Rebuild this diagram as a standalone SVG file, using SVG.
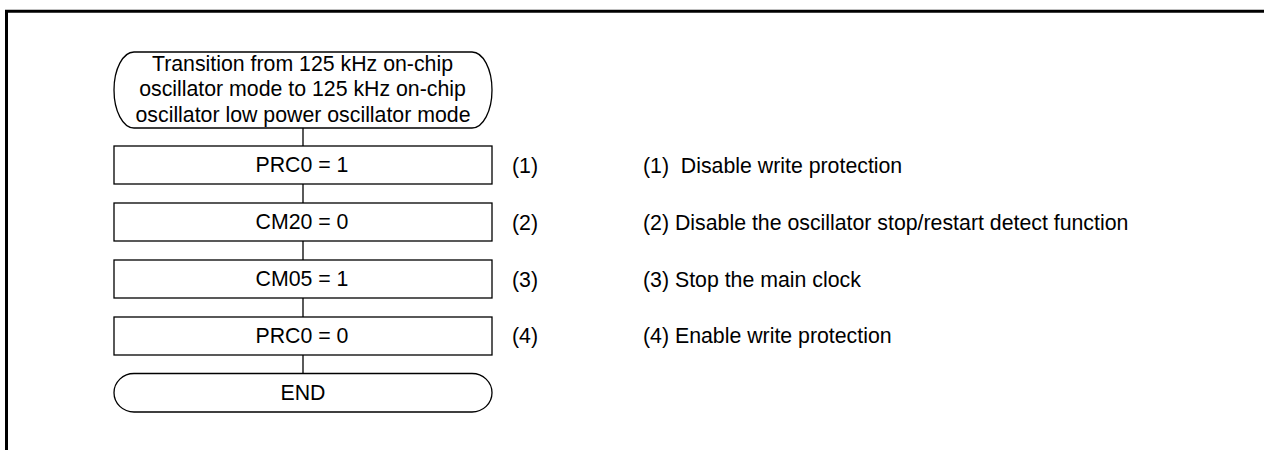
<svg xmlns="http://www.w3.org/2000/svg" width="1264" height="450" viewBox="0 0 1264 450">
<style>
text{font-family:"Liberation Sans",Arial,sans-serif;font-size:21.3px;fill:#000}
.c{text-anchor:middle}
.s{fill:#fff;stroke:#000;stroke-width:1.3}
.ln{stroke:#000;stroke-width:1.3;fill:none}
.fr{stroke:#000;stroke-width:3;fill:none}
</style>
<rect width="1264" height="450" fill="#fff"/>
<g id="frame"><path class="fr" d="M6.5 450 V11.3 H1264"/></g>
<g id="connectors">
<line class="ln" x1="303" y1="128" x2="303" y2="146"/>
<line class="ln" x1="303" y1="184" x2="303" y2="203"/>
<line class="ln" x1="303" y1="241" x2="303" y2="260"/>
<line class="ln" x1="303" y1="298" x2="303" y2="317"/>
<line class="ln" x1="303" y1="355" x2="303" y2="373.5"/>
</g>
<g id="start">
<path class="s" d="M134 52 H472 A20 38 0 0 1 472 128 H134 A20 38 0 0 1 134 52 Z"/>
<text class="c" x="302.5" y="70.7">Transition from 125 kHz on-chip</text>
<text class="c" x="302.5" y="96.2">oscillator mode to 125 kHz on-chip</text>
<text class="c" x="303" y="121.7">oscillator low power oscillator mode</text>
</g>
<g id="step1">
<rect class="s" x="114" y="146" width="378" height="38"/>
<text class="c" x="302" y="172.3">PRC0 = 1</text>
<text x="512" y="173">(1)</text>
</g>
<g id="step2">
<rect class="s" x="114" y="203" width="378" height="38"/>
<text class="c" x="302" y="229.3">CM20 = 0</text>
<text x="512" y="230">(2)</text>
</g>
<g id="step3">
<rect class="s" x="114" y="260" width="378" height="38"/>
<text class="c" x="302" y="286.3">CM05 = 1</text>
<text x="512" y="286.5">(3)</text>
</g>
<g id="step4">
<rect class="s" x="114" y="317" width="378" height="38"/>
<text class="c" x="302" y="343.3">PRC0 = 0</text>
<text x="512" y="343">(4)</text>
</g>
<g id="end">
<rect class="s" x="114" y="373.5" width="378" height="38.5" rx="20" ry="19.25"/>
<text class="c" x="303" y="400">END</text>
</g>
<g id="notes">
<text x="643" y="173" xml:space="preserve">(1)  Disable write protection</text>
<text x="643" y="230">(2) Disable the oscillator stop/restart detect function</text>
<text x="643" y="286.5">(3) Stop the main clock</text>
<text x="643" y="343">(4) Enable write protection</text>
</g>
</svg>
